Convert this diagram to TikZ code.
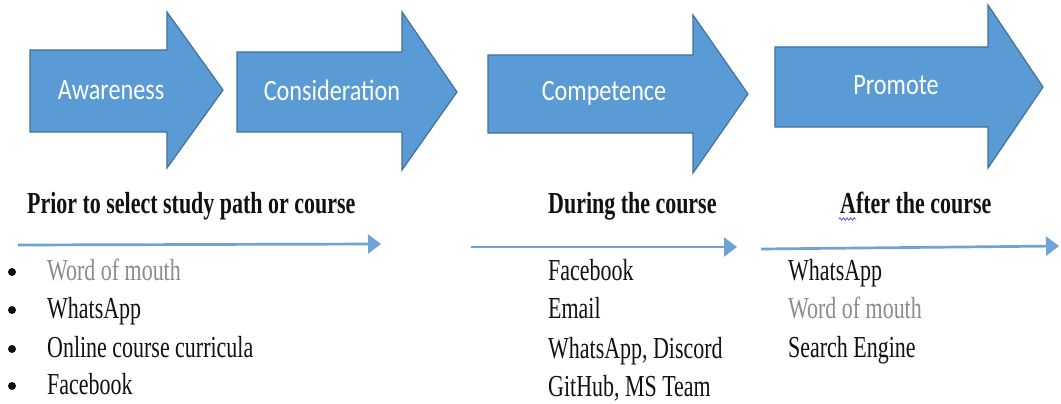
\documentclass[tikz,border=0pt]{standalone}
\usepackage{fontspec}
\usetikzlibrary{arrows.meta,decorations.pathmorphing}
\newfontfamily\txtfont[FakeStretch=0.72]{Liberation Serif}
\newfontfamily\lblfont[FakeStretch=0.82]{Carlito}
\definecolor{arrfill}{HTML}{5B9BD5}
\definecolor{arrdraw}{HTML}{41719C}
\definecolor{lineblue}{HTML}{6FA3D8}
\definecolor{txtgray}{HTML}{8C8C8C}
\definecolor{txtblack}{HTML}{111111}
\tikzset{
  bigarrow/.style={fill=arrfill, draw=arrdraw, line width=1.2pt, line join=miter},
  arrlabel/.style={text=white, font=\lblfont\fontsize{29.5}{34}\selectfont, inner sep=0pt},
  header/.style={anchor=base west, inner sep=0pt, text=txtblack, font=\txtfont\bfseries\fontsize{30.5}{36}\selectfont},
  item/.style={anchor=base west, inner sep=0pt, text=txtblack, font=\txtfont\fontsize{30.5}{36}\selectfont},
  grayitem/.style={item, text=txtgray},
  bulletdot/.style={circle, fill=txtblack, inner sep=0pt, minimum size=8pt},
  timeline/.style={draw=lineblue, line width=2.7pt, -{Triangle[length=13pt,width=19pt]}},
  squiggle/.style={draw=blue!75, line width=0.7pt, decorate, decoration={snake, amplitude=1.2pt, segment length=3.5pt}}
}
\begin{document}
\begin{tikzpicture}[x=1pt,y=-1pt]
\useasboundingbox[fill=white] (0,0) rectangle (1061,404);

% big block arrows
\draw[bigarrow] (30,50) -- (167,50) -- (167,12) -- (223,90) -- (167,168) -- (167,132) -- (30,132) -- cycle;
\draw[bigarrow] (237,52) -- (402,52) -- (402,12) -- (457,92) -- (402,170) -- (402,132) -- (237,132) -- cycle;
\draw[bigarrow] (488,55) -- (693,55) -- (693,15) -- (748,94) -- (693,173) -- (693,133) -- (488,133) -- cycle;
\draw[bigarrow] (775,47) -- (988,47) -- (988,5) -- (1043,87) -- (988,168) -- (988,127) -- (775,127) -- cycle;

\node[arrlabel] (aware) at (111,90) {Awareness};
\node[arrlabel] (consid) at (332,90) {Consideration};
\node[arrlabel] (compet) at (604,93) {Competence};
\node[arrlabel] (promote) at (896,85) {Promote};

% headers
\node[header] (h1) at (27,213) {Prior to select study path or course};
\node[header] (h2) at (548,213) {During the course};
\node[header] (h3) at (840,213) {After the course};
\coordinate (sq1) at (839,219);
\coordinate (sq2) at (856,219);
\path[squiggle] (sq1) -- (sq2);

% timelines
\coordinate (t1a) at (18,245);
\coordinate (t1b) at (381,244);
\coordinate (t2a) at (471,247);
\coordinate (t2b) at (737,247);
\coordinate (t3a) at (761,249);
\coordinate (t3b) at (1059,246);
\draw[timeline] (t1a) -- (t1b);
\draw[timeline] (t2a) -- (t2b);
\draw[timeline] (t3a) -- (t3b);

% left column
\node[bulletdot] (b1) at (12,272) {};
\node[bulletdot] (b2) at (12,310) {};
\node[bulletdot] (b3) at (12,349) {};
\node[bulletdot] (b4) at (12,386) {};
\node[grayitem] (l1) at (47,280) {Word of mouth};
\node[item] (l2) at (47,318) {WhatsApp};
\node[item] (l3) at (47,357) {Online course curricula};
\node[item] (l4) at (47,394) {Facebook};

% middle column
\node[item] (m1) at (548,280) {Facebook};
\node[item] (m2) at (548,318) {Email};
\node[item] (m3) at (548,358) {WhatsApp, Discord};
\node[item] (m4) at (548,396) {GitHub, MS Team};

% right column
\node[item] (r1) at (788,280) {WhatsApp};
\node[grayitem] (r2) at (788,318) {Word of mouth};
\node[item] (r3) at (788,357) {Search Engine};
\end{tikzpicture}
\end{document}
